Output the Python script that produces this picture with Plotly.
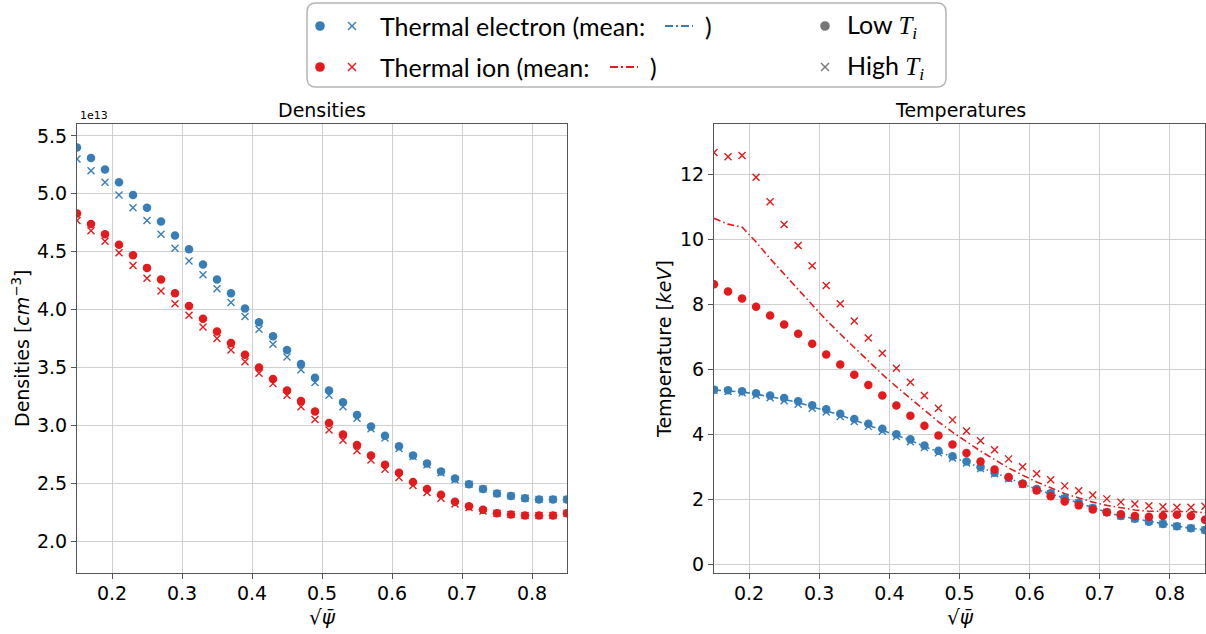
import plotly.graph_objects as go
from plotly.subplots import make_subplots

W, H = 1206, 634

# ---------------- data ----------------
psi = [0.15, 0.17, 0.19, 0.21, 0.23, 0.25, 0.27, 0.29, 0.31, 0.33, 0.35, 0.37,
       0.39, 0.41, 0.43, 0.45, 0.47, 0.49, 0.51, 0.53, 0.55, 0.57, 0.59, 0.61,
       0.63, 0.65, 0.67, 0.69, 0.71, 0.73, 0.75, 0.77, 0.79, 0.81, 0.83, 0.85]

# densities, in units of 1e13 cm^-3
ne_low = [5.40, 5.31, 5.21, 5.10, 4.99, 4.88, 4.76, 4.64, 4.52, 4.39, 4.26, 4.14,
          4.01, 3.89, 3.77, 3.65, 3.53, 3.41, 3.30, 3.20, 3.09, 2.99, 2.91, 2.82,
          2.74, 2.67, 2.60, 2.54, 2.49, 2.45, 2.41, 2.39, 2.37, 2.36, 2.36, 2.36]
ne_high = [5.30, 5.20, 5.10, 4.99, 4.88, 4.77, 4.65, 4.53, 4.42, 4.30, 4.18, 4.06,
           3.94, 3.83, 3.70, 3.59, 3.48, 3.37, 3.26, 3.16, 3.06, 2.97, 2.89, 2.80,
           2.73, 2.66, 2.59, 2.53, 2.49, 2.45, 2.41, 2.39, 2.37, 2.36, 2.36, 2.36]
ni_low = [4.83, 4.74, 4.65, 4.56, 4.47, 4.36, 4.26, 4.14, 4.03, 3.92, 3.81, 3.71,
          3.61, 3.50, 3.40, 3.30, 3.21, 3.12, 3.02, 2.92, 2.83, 2.74, 2.66, 2.59,
          2.51, 2.45, 2.40, 2.34, 2.30, 2.27, 2.24, 2.23, 2.22, 2.22, 2.22, 2.24]
ni_high = [4.77, 4.68, 4.59, 4.49, 4.38, 4.27, 4.16, 4.05, 3.95, 3.85, 3.75, 3.65,
           3.55, 3.45, 3.36, 3.26, 3.16, 3.05, 2.96, 2.87, 2.78, 2.70, 2.62, 2.55,
           2.48, 2.42, 2.37, 2.32, 2.29, 2.26, 2.24, 2.23, 2.22, 2.22, 2.22, 2.24]

# temperatures, keV
te_low = [5.38, 5.36, 5.33, 5.27, 5.20, 5.12, 5.02, 4.90, 4.78, 4.64, 4.48, 4.33,
          4.18, 4.01, 3.85, 3.66, 3.50, 3.33, 3.17, 2.99, 2.82, 2.67, 2.49, 2.32,
          2.19, 2.04, 1.90, 1.74, 1.61, 1.49, 1.41, 1.32, 1.25, 1.18, 1.12, 1.06]
te_high = [5.36, 5.32, 5.28, 5.21, 5.13, 5.04, 4.93, 4.81, 4.69, 4.55, 4.40, 4.25,
           4.10, 3.94, 3.78, 3.60, 3.44, 3.28, 3.12, 2.95, 2.79, 2.64, 2.47, 2.30,
           2.17, 2.03, 1.89, 1.73, 1.61, 1.49, 1.41, 1.32, 1.25, 1.18, 1.12, 1.06]
te_mean = [5.37, 5.34, 5.31, 5.24, 5.17, 5.08, 4.98, 4.86, 4.74, 4.60, 4.44, 4.29,
           4.14, 3.98, 3.82, 3.63, 3.47, 3.31, 3.15, 2.97, 2.81, 2.66, 2.48, 2.31,
           2.18, 2.04, 1.90, 1.74, 1.61, 1.49, 1.41, 1.32, 1.25, 1.18, 1.12, 1.06]
ti_low = [8.62, 8.40, 8.18, 7.93, 7.66, 7.38, 7.10, 6.79, 6.46, 6.15, 5.84, 5.52,
          5.20, 4.89, 4.58, 4.27, 3.97, 3.69, 3.43, 3.17, 2.92, 2.69, 2.48, 2.28,
          2.10, 1.94, 1.82, 1.69, 1.61, 1.55, 1.49, 1.47, 1.49, 1.53, 1.49, 1.38]
ti_high = [12.67, 12.54, 12.58, 11.91, 11.16, 10.46, 9.81, 9.19, 8.58, 8.02, 7.49, 6.97,
           6.50, 6.04, 5.61, 5.20, 4.81, 4.45, 4.11, 3.81, 3.53, 3.25, 3.01, 2.79,
           2.61, 2.42, 2.27, 2.14, 2.02, 1.92, 1.86, 1.81, 1.78, 1.76, 1.76, 1.79]
ti_mean = [10.65, 10.47, 10.38, 9.92, 9.41, 8.92, 8.46, 7.99, 7.52, 7.09, 6.67, 6.25,
           5.85, 5.47, 5.10, 4.74, 4.39, 4.07, 3.77, 3.49, 3.23, 2.97, 2.75, 2.54,
           2.36, 2.18, 2.05, 1.92, 1.82, 1.74, 1.68, 1.64, 1.64, 1.65, 1.63, 1.59]

xticks = [0.2, 0.3, 0.4, 0.5, 0.6, 0.7, 0.8]

BLUE = "#377eb8"
RED = "#e41a1c"
GRAY = "#777777"
FONT = "DejaVu Sans"
LFONT = "Lato"

# ---------------- helpers ----------------
def px(x):
    return x / W


def py(y):
    return 1 - y / H


fig = make_subplots(rows=1, cols=2)

DASHDOT = "7px,3px,1.5px,3px"


def dots(x, y, color, col):
    fig.add_trace(go.Scatter(x=x, y=y, mode="markers",
                             marker=dict(symbol="circle", size=8.5, color=color, line=dict(width=0)),
                             showlegend=False), row=1, col=col)


def crosses(x, y, color, col):
    fig.add_trace(go.Scatter(x=x, y=y, mode="markers",
                             marker=dict(symbol="x-thin", size=7, color=color,
                                         line=dict(width=1.4, color=color)),
                             showlegend=False), row=1, col=col)


def meanline(x, y, color, col):
    fig.add_trace(go.Scatter(x=x, y=y, mode="lines",
                             line=dict(color=color, width=1.6, dash=DASHDOT),
                             showlegend=False), row=1, col=col)


# densities
dots(psi, ne_low, BLUE, 1)
crosses(psi, ne_high, BLUE, 1)
dots(psi, ni_low, RED, 1)
crosses(psi, ni_high, RED, 1)

# temperatures
meanline(psi, te_mean, BLUE, 2)
meanline(psi, ti_mean, RED, 2)
dots(psi, te_low, BLUE, 2)
crosses(psi, te_high, BLUE, 2)
dots(psi, ti_low, RED, 2)
crosses(psi, ti_high, RED, 2)

axis_common = dict(showgrid=True, gridcolor="#cfcfcf", gridwidth=1,
                   showline=True, linecolor="#555555", linewidth=1.2, mirror=True,
                   ticks="outside", ticklen=5, tickwidth=1.1, tickcolor="#555555",
                   tickfont=dict(family=FONT, size=19, color="black"),
                   zeroline=False, automargin=False)

y0p, y1p = py(573), py(124)
fig.update_layout(
    xaxis=dict(domain=[px(77), px(567)], range=[0.15, 0.85], tickvals=xticks,
               ticklabelstandoff=-2, **axis_common),
    xaxis2=dict(domain=[px(714), px(1205)], range=[0.15, 0.85], tickvals=xticks,
                ticklabelstandoff=-2, **axis_common),
    yaxis=dict(domain=[y0p, y1p], range=[1.724, 5.603], tick0=2.0, dtick=0.5,
               tickformat=".1f", **axis_common),
    yaxis2=dict(domain=[y0p, y1p], range=[-0.26, 13.55], tick0=0, dtick=2, **axis_common),
    width=W, height=H, margin=dict(l=0, r=0, t=0, b=0),
    paper_bgcolor="white", plot_bgcolor="white", showlegend=False,
)

ann = []


def text(x, y, s, size=19, family=FONT, xanchor="center", angle=0, color="black"):
    ann.append(dict(x=px(x), y=py(y), xref="paper", yref="paper", text=s, showarrow=False,
                    xanchor=xanchor, yanchor="middle", textangle=angle,
                    font=dict(family=family, size=size, color=color)))


text(322, 110, "Densities")
text(960, 110, "Temperatures")
text(78, 116, "1e13", size=11, xanchor="left")
text(21, 349, "Densities [<i>cm</i><sup>−3</sup>]", angle=-90)
text(664, 349, "Temperature [<i>keV</i>]", angle=-90)
text(322, 617, "√<i>ψ̄</i>", size=20)
text(960, 617, "√<i>ψ̄</i>", size=20)

# legend texts
TI = "<span style='font-family:Liberation Serif'><i>T</i><sub><i>i</i></sub></span>"
text(378, 26, "Thermal electron (mean:", size=25, family=LFONT, xanchor="left")
text(703, 26, ")", size=25, family=LFONT, xanchor="left")
text(378, 67, "Thermal ion (mean:", size=25, family=LFONT, xanchor="left")
text(648, 67, ")", size=25, family=LFONT, xanchor="left")
text(845, 26, "Low " + TI, size=25, family=LFONT, xanchor="left")
text(845, 67, "High " + TI, size=25, family=LFONT, xanchor="left")

fig.update_layout(annotations=ann)

shapes = []
# legend box (rounded)
x0, x1, ya, yb = px(307), px(946), py(87), py(3)
rx, ry = 9 / W, 9 / H
path = (f"M {x0+rx},{yb} L {x1-rx},{yb} Q {x1},{yb} {x1},{yb-ry} L {x1},{ya+ry} "
        f"Q {x1},{ya} {x1-rx},{ya} L {x0+rx},{ya} Q {x0},{ya} {x0},{ya+ry} "
        f"L {x0},{yb-ry} Q {x0},{yb} {x0+rx},{yb} Z")
shapes.append(dict(type="path", path=path, xref="paper", yref="paper",
                   line=dict(color="#b5b5b5", width=1.5), fillcolor="rgba(255,255,255,0.9)",
                   layer="below"))


def ldot(cx, cy, color, r=4.8):
    shapes.append(dict(type="circle", xref="paper", yref="paper",
                       x0=px(cx - r), x1=px(cx + r), y0=py(cy + r), y1=py(cy - r),
                       fillcolor=color, line=dict(width=0)))


def lcross(cx, cy, color, r=4.0):
    for s in (1, -1):
        shapes.append(dict(type="line", xref="paper", yref="paper",
                           x0=px(cx - r), x1=px(cx + r), y0=py(cy - s * r), y1=py(cy + s * r),
                           line=dict(color=color, width=1.4)))


def ldash(xa, xb, cy, color):
    shapes.append(dict(type="line", xref="paper", yref="paper",
                       x0=px(xa), x1=px(xb), y0=py(cy), y1=py(cy),
                       line=dict(color=color, width=2, dash="8px,3px,2px,3px")))


ldot(320, 26, BLUE)
lcross(352, 26, BLUE)
ldash(665, 693, 26, BLUE)
ldot(320, 67, RED)
lcross(352, 67, RED)
ldash(610, 638, 67, RED)
ldot(825, 26, GRAY)
lcross(825, 67, GRAY)

fig.update_layout(shapes=shapes)

fig.write_html("out.html", config={"displayModeBar": False},
               post_script="document.body.style.margin='0px';")
